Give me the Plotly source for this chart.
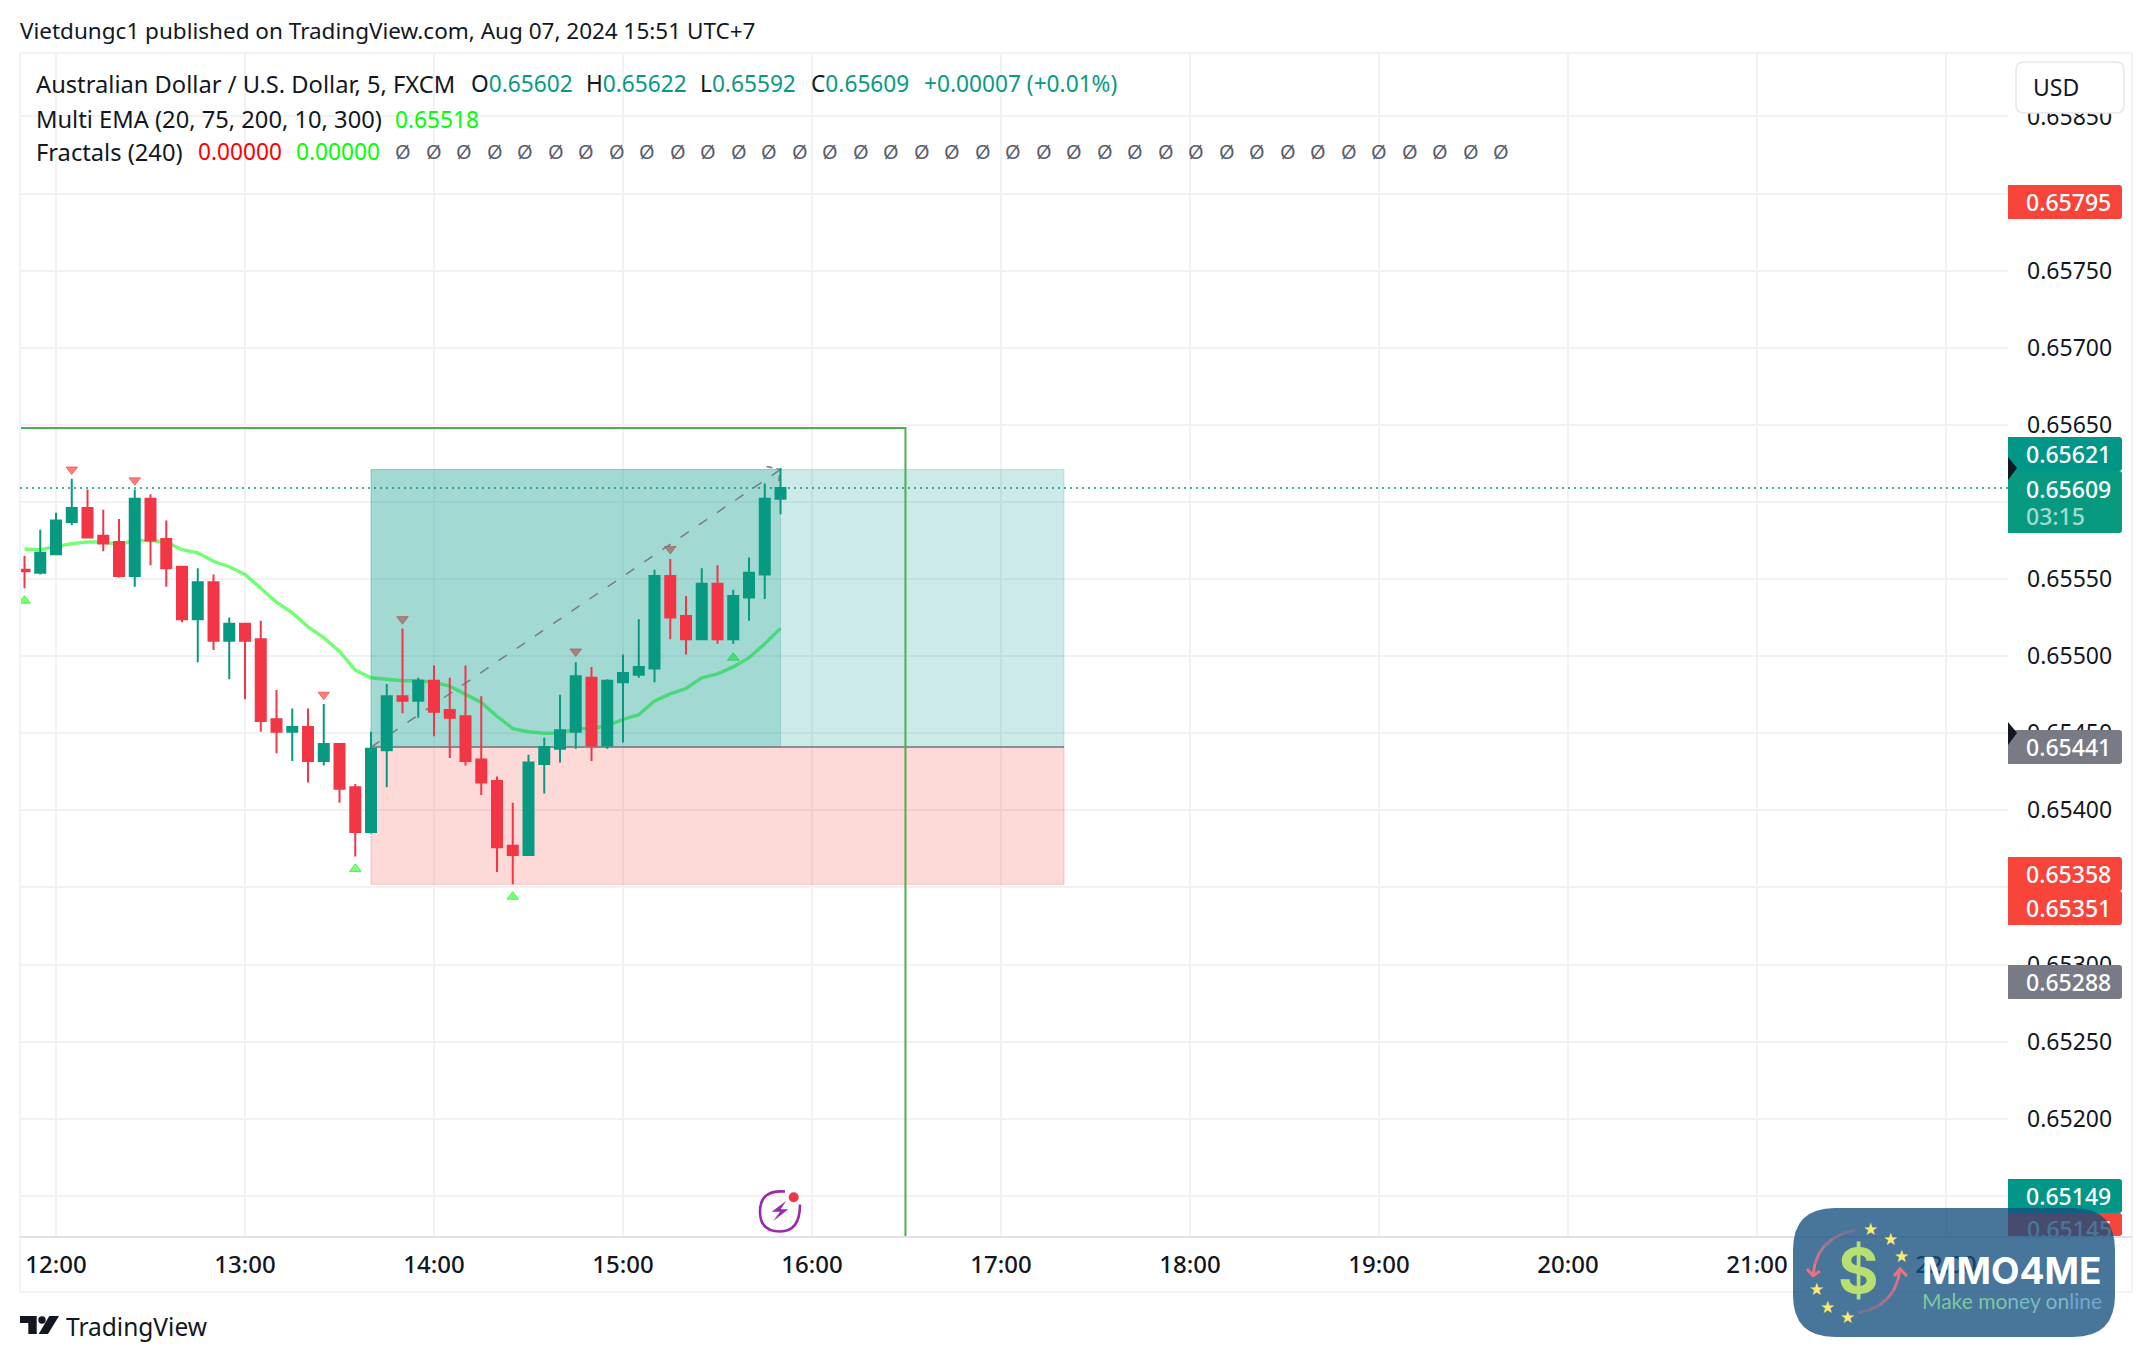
import plotly.graph_objects as go

DAY = "2024-08-07 "
bar_times = ["11:50","11:55","12:00","12:05","12:10","12:15","12:20","12:25","12:30","12:35","12:40","12:45",
             "12:50","12:55","13:00","13:05","13:10","13:15","13:20","13:25","13:30","13:35","13:40","13:45",
             "13:50","13:55","14:00","14:05","14:10","14:15","14:20","14:25","14:30","14:35","14:40","14:45",
             "14:50","14:55","15:00","15:05","15:10","15:15","15:20","15:25","15:30","15:35","15:40","15:45","15:50"]
opens  = [.65556,.65554,.65566,.65587,.65596,.65578,.65574,.65552,.65602,.65576,.65558,.65524,
          .65548,.65510,.65521,.65511,.65459,.65451,.65454,.65432,.65443,.65415,.65386,.65439,
          .65474,.65471,.65484,.65465,.65461,.65433,.65419,.65377,.65371,.65430,.65440,.65451,
          .65486,.65442,.65483,.65488,.65492,.65552,.65526,.65511,.65547,.65511,.65538,.65553,.65602]
highs  = [.65565,.65582,.65593,.65615,.65608,.65595,.65589,.65608,.65605,.65588,.65558,.65557,
          .65553,.65525,.65521,.65523,.65478,.65466,.65466,.65469,.65443,.65417,.65451,.65482,
          .65518,.65486,.65494,.65486,.65494,.65474,.65422,.65405,.65436,.65447,.65475,.65496,
          .65493,.65485,.65501,.65524,.65556,.65563,.65539,.65557,.65559,.65543,.65564,.65612,.65622]
lows   = [.65544,.65553,.65566,.65585,.65577,.65568,.65551,.65545,.65559,.65545,.65522,.65496,
          .65504,.65485,.65472,.65451,.65437,.65432,.65418,.65429,.65405,.65370,.65385,.65415,
          .65463,.65460,.65448,.65434,.65429,.65410,.65360,.65352,.65371,.65411,.65431,.65440,
          .65432,.65440,.65444,.65486,.65483,.65511,.65501,.65511,.65508,.65508,.65523,.65537,.65592]
closes = [.65555,.65567,.65588,.65596,.65577,.65573,.65552,.65602,.65575,.65557,.65524,.65548,
          .65510,.65521,.65510,.65458,.65451,.65454,.65432,.65443,.65414,.65386,.65440,.65474,
          .65471,.65484,.65464,.65460,.65432,.65418,.65376,.65371,.65431,.65441,.65452,.65487,
          .65442,.65484,.65489,.65493,.65552,.65525,.65511,.65547,.65511,.65539,.65554,.65602,.65609]
ema    = [.655695,.65569,.65571,.65573,.65574,.65574,.655725,.65575,.65575,.65574,.65569,.65567,
          .655615,.65558,.65553,.65544,.65535,.65528,.65519,.65512,.65503,.65491,.65486,.65485,
          .65484,.65484,.65483,.654805,.654755,.65470,.65461,.65453,.65451,.65450,.65450,.65453,
          .65453,.65455,.65459,.65462,.65471,.654755,.65479,.65486,.654885,.65493,.65499,.65508,.65518]

fractal_down_t = ["12:05","12:25","13:25","13:50","14:45","15:15"]
fractal_down_p = [.65621,.65614,.65475,.65524,.65503,.655695]
fractal_up_t   = ["11:50","13:35","14:25","15:35"]
fractal_up_p   = [.65536,.65362,.65344,.65499]

zone_start, zone_now, zone_end = "13:40", "15:50", "17:20"
entry_price, target_price, stop_price = .65441, .65621, .65352
trend_t = ["13:40","15:50"]
trend_p = [.65441,.65621]
head_t = ["15:45:33","15:50","15:49:15"]
head_p = [.65623,.65621,.65612]
rect_t = ["11:00","16:29:40","16:29:40"]
rect_p = [.65648,.65648,.65100]
last_price = .65609

hour_ticks = ["12:00","13:00","14:00","15:00","16:00","17:00","18:00","19:00","20:00","21:00","22:00"]
price_ticks = [.6515,.6520,.6525,.6530,.6535,.6540,.6545,.6550,.6555,.6560,.6565,.6570,.6575,.6580,.6585]

GREEN, RED = "#089981", "#f23645"
INK = "#131722"
FONT = "Noto Sans"
SZ = 23
LEG = 23.7
NUM = 22.7

L, R, T, B = 20, 2008, 54, 1237
def px(x): return (x - L) / (R - L)
def py(y): return (B - y) / (B - T)
def d(t): return DAY + t

X_RANGE = [d("11:48:34"), d("22:19:41")]
Y_RANGE = [.651233, .658905]

fig = go.Figure()
tt = [d(t) for t in bar_times]

fig.add_trace(go.Scatter(x=tt, y=ema, mode="lines", line=dict(color="rgba(0,255,0,0.55)", width=3.4)))
fig.add_trace(go.Scatter(x=[d(t) for t in fractal_down_t], y=fractal_down_p, mode="markers",
    marker=dict(symbol="triangle-down", size=10, color="rgba(255,0,0,0.5)", line=dict(color="rgba(255,60,60,0.7)", width=1))))
fig.add_trace(go.Scatter(x=[d(t) for t in fractal_up_t], y=fractal_up_p, mode="markers",
    marker=dict(symbol="triangle-up", size=10, color="rgba(0,255,0,0.5)", line=dict(color="rgba(0,255,0,0.7)", width=1))))

def zone(t0, t1, p0, p1, fill, line):
    fig.add_trace(go.Scatter(x=[d(t0), d(t1), d(t1), d(t0), d(t0)], y=[p0, p0, p1, p1, p0], mode="lines",
                             fill="toself", fillcolor=fill, line=dict(color=line, width=1)))

zone(zone_start, zone_end, entry_price, target_price, "rgba(0,150,136,0.2)", "rgba(0,150,136,0.2)")
zone(zone_start, zone_now, entry_price, target_price, "rgba(0,150,136,0.2)", "rgba(0,150,136,0.2)")
zone(zone_start, zone_end, stop_price, entry_price, "rgba(244,67,54,0.2)", "rgba(244,67,54,0.25)")
fig.add_trace(go.Scatter(x=[d(zone_start), d(zone_end)], y=[entry_price, entry_price], mode="lines",
                         line=dict(color="#787b86", width=1.5)))
fig.add_trace(go.Scatter(x=[d(t) for t in trend_t], y=trend_p, mode="lines",
                         line=dict(color="#787b86", width=1.5, dash="10px,12px")))
fig.add_trace(go.Scatter(x=[d(t) for t in head_t], y=head_p, mode="lines",
                         line=dict(color="#787b86", width=1.5, dash="6px,4px")))
fig.add_trace(go.Scatter(x=[d(t) for t in rect_t], y=rect_p, mode="lines",
                         line=dict(color="#4caf50", width=2)))

fig.add_trace(go.Candlestick(x=tt, open=opens, high=highs, low=lows, close=closes, xaxis="x2", yaxis="y2",
    increasing=dict(line=dict(color=GREEN, width=2), fillcolor=GREEN),
    decreasing=dict(line=dict(color=RED, width=2), fillcolor=RED), whiskerwidth=0))

grid = "#f2f2f5"
# tag text that sits under the badge, drawn as a tick label so the badge covers it
under_badge_price = [.651279]
under_badge_text = ['<span style="color:white">0.65145</span>']
fig.update_layout(
    width=2152, height=1362, autosize=False, showlegend=False, hovermode=False,
    paper_bgcolor="white", plot_bgcolor="white",
    margin=dict(l=L, r=2152 - R, t=T, b=1362 - B, pad=0),
    font=dict(family=FONT, size=SZ, color=INK),
    boxgap=0.365, boxgroupgap=0,
    xaxis=dict(type="date", range=X_RANGE, tickmode="array", tickvals=[d(t) for t in hour_ticks], ticktext=hour_ticks,
               showgrid=True, gridcolor=grid, gridwidth=1.5, zeroline=False, ticks="", showline=False,
               ticklabelstandoff=11, tickfont=dict(family=FONT, size=24, color=INK, weight=500)),
    yaxis=dict(range=Y_RANGE, side="right", tickmode="array", tickvals=price_ticks, ticktext=[f"{p:.5f}" for p in price_ticks],
               showgrid=True, gridcolor=grid, gridwidth=1.5, zeroline=False, ticks="", showline=False,
               ticklabelstandoff=18, tickfont=dict(family=FONT, size=SZ, color=INK)),
    xaxis2=dict(type="date", range=X_RANGE, overlaying="x", visible=False, rangeslider=dict(visible=False)),
    yaxis2=dict(range=Y_RANGE, overlaying="y", side="right", showgrid=False, zeroline=False, ticks="", showline=False,
                tickmode="array", tickvals=under_badge_price, ticktext=under_badge_text, ticklabelstandoff=18,
                tickfont=dict(family=FONT, size=SZ, color="white", weight=500)),
)

shapes = []
def pline(x0, y0, x1, y1, color, width):
    shapes.append(dict(type="line", xref="paper", yref="paper", x0=px(x0), y0=py(y0), x1=px(x1), y1=py(y1),
                       line=dict(color=color, width=width), layer="above"))
def path(points, fill=None, line=None, width=0, layer="above"):
    shapes.append(dict(type="path", xref="paper", yref="paper", path=points, fillcolor=fill or "rgba(0,0,0,0)",
                       line=dict(color=line or "rgba(0,0,0,0)", width=width), layer=layer))
def rrect(x0, y0, x1, y1, rl, rr, fill, line=None, width=0, layer="above"):
    a, b, c, e = px(x0), py(y0), px(x1), py(y1)
    rx, ry = rr / (R - L), rr / (B - T)
    lx, ly = rl / (R - L), rl / (B - T)
    p = (f"M{a+lx},{b} L{c-rx},{b} Q{c},{b} {c},{b-ry} L{c},{e+ry} Q{c},{e} {c-rx},{e} L{a+lx},{e} "
         f"Q{a},{e} {a},{e+ly} L{a},{b-ly} Q{a},{b} {a+lx},{b} Z")
    path(p, fill, line, width, layer)
def P(x, y): return f"{px(x)},{py(y)}"

frame = "#f0f3fa"
pline(20, 53, 2132, 53, frame, 2); pline(2132, 53, 2132, 1292, frame, 2)
pline(20, 1292, 2132, 1292, frame, 2); pline(20, 53, 20, 1292, frame, 2)

shapes.append(dict(type="line", xref="paper", yref="y", x0=0, x1=1, y0=last_price, y1=last_price,
                   line=dict(color=GREEN, width=1.5, dash="2px,4px"), layer="above"))

TAG_X0, TAG_X1 = 2008, 2122
TEAL = "#009688"; ORANGE = "#f9443a"; GREY = "#787b86"
tags = [(185, 219, ORANGE, "0.65795"), (437, 471, TEAL, "0.65621"), (471, 533, GREEN, "0.65609"),
        (730, 764, GREY, "0.65441"), (857, 891, ORANGE, "0.65358"), (891, 925, ORANGE, "0.65351"),
        (965, 999, GREY, "0.65288"), (1179, 1213, TEAL, "0.65149")]
rrect(TAG_X0, 1213, TAG_X1, 1236, 0, 3, ORANGE, layer="below")
for y0, y1, col, _ in tags:
    rrect(TAG_X0, y0, TAG_X1, y1, 0, 3, col)

path(f"M{P(2008,457)} L{P(2017,468)} L{P(2008,480)} Z", INK)
path(f"M{P(2008,722)} L{P(2017,733)} L{P(2008,745)} Z", INK)

rrect(2016, 62, 2124, 113, 8, 8, "white", "#e6e8ef", 1.5)

# white strip under the pane, then the axis separator
path(f"M{P(2008,1237)} L{P(2130,1237)} L{P(2130,1242)} L{P(2008,1242)} Z", "white")
pline(20, 1237, 2132, 1237, "#e0e3eb", 2)

# lightning icon
cx, cy, r = 780, 1211.5, 20
path(f"M{P(cx+5,cy-r)} Q{P(cx-r,cy-r-2)} {P(cx-r,cy)} Q{P(cx-r,cy+r)} {P(cx,cy+r)} Q{P(cx+r,cy+r)} {P(cx+r,cy-7)}",
     None, "#9c27b0", 2.6)
path(f"M{P(786,1201)} L{P(771.7,1211.7)} L{P(780,1211.7)} L{P(773.3,1221)} L{P(788.3,1209.3)} L{P(780.7,1209.3)} Z", "#9c27b0")
shapes.append(dict(type="circle", xref="paper", yref="paper", x0=px(788.7), x1=px(798.7), y0=py(1192.3), y1=py(1202.3),
                   fillcolor=RED, line=dict(width=0), layer="above"))

# TradingView logo
path(f"M{P(20,1316)} L{P(36.7,1316)} L{P(36.7,1334)} L{P(28.3,1334)} L{P(28.3,1323)} L{P(20,1323)} Z", INK)
shapes.append(dict(type="circle", xref="paper", yref="paper", x0=px(38.3), x1=px(45.7), y0=py(1316.3), y1=py(1323.7),
                   fillcolor=INK, line=dict(width=0), layer="above"))
path(f"M{P(49.3,1316)} L{P(59,1316)} L{P(48,1334)} L{P(38.7,1334)} Z", INK)

# watermark badge
rrect(1793, 1208, 2115, 1337, 42, 42, "rgba(20,78,125,0.78)")
def faded_arc(p0, c, p1, n=6):
    for i in range(n):
        t0, t1 = i / n, (i + 1) / n
        def q(t):
            return ((1-t)**2*p0[0] + 2*t*(1-t)*c[0] + t*t*p1[0], (1-t)**2*p0[1] + 2*t*(1-t)*c[1] + t*t*p1[1])
        a, b = q(t0), q(t1)
        alpha = 0.12 + 0.8 * t1
        path(f"M{P(*a)} L{P(*b)}", None, f"rgba(240,115,130,{alpha:.2f})", 3)
faded_arc((1855, 1230), (1816, 1238), (1813, 1275))
path(f"M{P(1807,1269)} L{P(1813,1275.7)} L{P(1820,1271)}", None, "rgba(240,115,130,0.95)", 3)
faded_arc((1858, 1313), (1896, 1306), (1900, 1269))
path(f"M{P(1894,1276)} L{P(1900,1269)} L{P(1907,1276)}", None, "rgba(240,115,130,0.95)", 3)

fig.update_layout(shapes=shapes)

ann = []
def text(x, y, s, color=INK, size=SZ, anchor="left", family=FONT, weight=None):
    f = dict(family=family, size=size, color=color)
    if weight:
        f["weight"] = weight
    ann.append(dict(xref="paper", yref="paper", x=px(x), y=py(y), text=s, showarrow=False, xanchor=anchor, yanchor="middle",
                    font=f, align="left", borderpad=0, borderwidth=0))

text(20, 31, "Vietdungc1 published on TradingView.com, Aug 07, 2024 15:51 UTC+7", INK, 22.5)
text(36, 84, "Australian Dollar / U.S. Dollar, 5, FXCM", INK, LEG)
LG = "#089981"
for x, k, v in [(471, "O", "0.65602"), (586, "H", "0.65622"), (700, "L", "0.65592"), (811, "C", "0.65609")]:
    text(x, 84, f'{k}<span style="color:{LG}">{v}</span>', INK, NUM)
text(924, 84, "+0.00007 (+0.01%)", LG, NUM)
text(36, 119, "Multi EMA (20, 75, 200, 10, 300)", INK, LEG)
text(395, 119, "0.65518", "#00ff00", NUM)
text(36, 152, "Fractals (240)", INK, LEG)
text(198, 152, "0.00000", "#ff0000", NUM)
text(296, 152, "0.00000", "#00ff00", NUM)
for i in range(37):
    text(395 + i * 30.5, 152, "Ø", "#5a5e6a", 20)

text(2033, 87, "USD")
for y0, y1, col, s in tags:
    if s == "0.65609":
        text(2026, 489, s, "white", SZ, weight=500); text(2026, 516, "03:15", "rgba(255,255,255,0.65)", SZ, weight=500)
    else:
        text(2026, (y0 + y1) / 2, s, "white", SZ, weight=500)

text(66, 1326, "TradingView", INK, 24.5)
text(1922, 1270, "MMO4ME", "white", 37, family="Inter", weight=700)
text(1922, 1300, '<span style="color:#7cc8a0">Make mo</span><span style="color:#78bcc0">ney on</span><span style="color:#6fa8d0">line</span>', INK, 21, family="Lato")
text(1858, 1270, "<b>$</b>", "#b8e070", 62, "center", "Inter")
for zx, zy in [(360, 1168), (420, 1196), (453, 1248), (200, 1348), (233, 1402), (293, 1430)]:
    text(1750 + zx / 3, 840 + zy / 3, "★", "#fde96f", 17, "center", "DejaVu Sans")

fig.update_layout(annotations=ann)
fig.write_html("out.html", config={"displayModeBar": False}, post_script="document.body.style.margin='0';")
